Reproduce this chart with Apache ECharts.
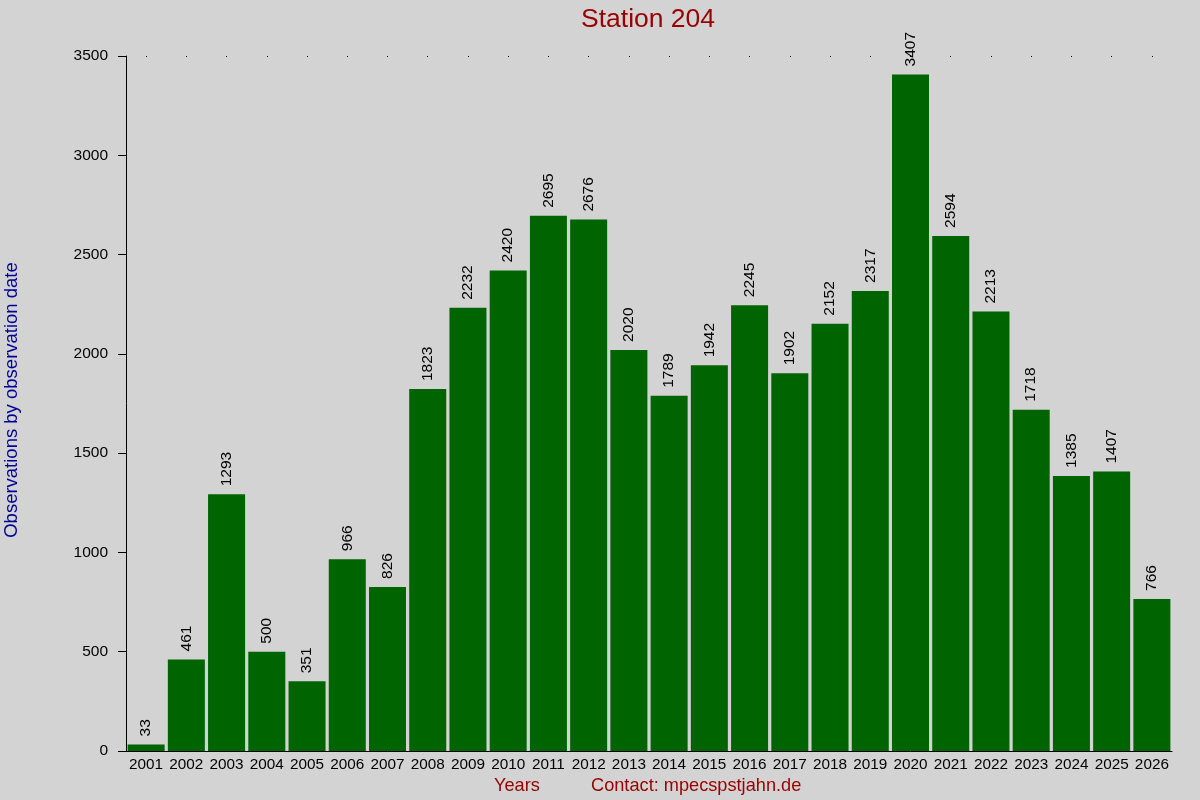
<!DOCTYPE html>
<html>
<head>
<meta charset="utf-8">
<script src="https://cdn.jsdelivr.net/npm/echarts@6/dist/echarts.min.js"></script>
<style>
html,body{margin:0;padding:0;background:#d3d3d3;}
#chart{width:1200px;height:800px;}
</style>
</head>
<body>
<div id="chart"></div>
<script>
var years = ['2001','2002','2003','2004','2005','2006','2007','2008','2009','2010','2011','2012','2013','2014','2015','2016','2017','2018','2019','2020','2021','2022','2023','2024','2025','2026'];
var observations = [33,461,1293,500,351,966,826,1823,2232,2420,2695,2676,2020,1789,1942,2245,1902,2152,2317,3407,2594,2213,1718,1385,1407,766];
var yTicks = [0,500,1000,1500,2000,2500,3000,3500];

var chart = echarts.init(document.getElementById('chart'));
var font = 'Liberation Sans, Arial, sans-serif';
chart.setOption({
  backgroundColor: '#d3d3d3',
  animation: false,
  title: {
    text: 'Station 204',
    left: 576,
    top: 1,
    textStyle: {color: '#990000', fontSize: 26.5, fontWeight: 'normal', fontFamily: font}
  },
  grid: {left: 126, right: 28, top: 56, bottom: 49},
  xAxis: [{
    type: 'category',
    data: years,
    axisLine: {lineStyle: {color: '#000', width: 1}},
    axisTick: {show: false},
    axisLabel: {color: '#000', fontSize: 15.3, fontFamily: font, margin: 6, interval: 0}
  }, {
    type: 'category',
    data: years,
    position: 'top',
    axisLine: {show: false},
    axisTick: {show: true, alignWithLabel: true, inside: true, length: 1, lineStyle: {color: '#000', width: 1}},
    axisLabel: {show: false}
  }],
  yAxis: {
    type: 'value',
    min: yTicks[0],
    max: yTicks[yTicks.length - 1],
    interval: 500,
    axisLine: {show: true, lineStyle: {color: '#000', width: 1}},
    axisTick: {show: true, length: 8, lineStyle: {color: '#000'}},
    splitLine: {show: false},
    axisLabel: {color: '#000', fontSize: 15.5, fontFamily: font, margin: 18,
      formatter: function (v) { return String(v); }}
  },
  graphic: [
    {type: 'text', left: 2, top: 'middle', rotation: Math.PI / 2,
     style: {text: 'Observations by observation date', fill: '#000099', fontSize: 18.5, fontFamily: font}},
    {type: 'text', left: 494, top: 777,
     style: {text: 'Years', fill: '#990000', fontSize: 18.2, fontFamily: font}},
    {type: 'text', left: 591, top: 777,
     style: {text: 'Contact: mpecspstjahn.de', fill: '#990000', fontSize: 18.2, fontFamily: font}}
  ],
  series: [{
    type: 'bar',
    data: observations,
    barCategoryGap: '8%',
    itemStyle: {color: '#006400'},
    label: {
      show: true,
      position: 'top',
      rotate: 90,
      align: 'left',
      verticalAlign: 'middle',
      distance: 8,
      color: '#000',
      fontSize: 15.5,
      fontFamily: font
    }
  }]
});
</script>
</body>
</html>
